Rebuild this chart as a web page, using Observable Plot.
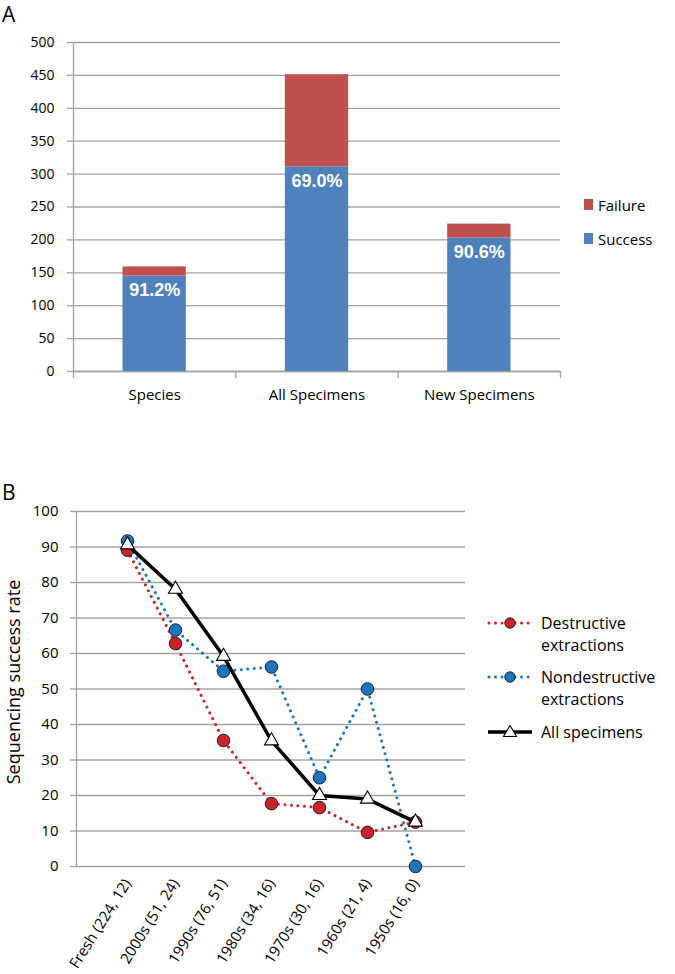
<!DOCTYPE html>
<html><head><meta charset="utf-8">
<script src="https://cdn.jsdelivr.net/npm/d3@7"></script>
<script src="https://cdn.jsdelivr.net/npm/@observablehq/plot@0.6"></script>
<style>
body{margin:0;background:#fff;font-family:"Open Sans",sans-serif;color:#000;}
#fig{position:relative;width:675px;height:974px;overflow:hidden;}
#fig svg{position:absolute;left:0;}
.abs{position:absolute;white-space:nowrap;line-height:1;}
</style></head><body><div id="fig"></div>
<script>
// ---- Panel A data ----
const categories = ["Species", "All Specimens", "New Specimens"];
const success = [145, 311, 203];
const failure = [14, 140, 21];
const successPct = ["91.2%", "69.0%", "90.6%"];
const yTicksA = [0, 50, 100, 150, 200, 250, 300, 350, 400, 450, 500];

// ---- Panel B data ----
const decades = ["Fresh (224, 12)", "2000s (51, 24)", "1990s (76, 51)", "1980s (34, 16)", "1970s (30, 16)", "1960s (21, 4)", "1950s (16, 0)"];
const destructive = [89.1, 62.8, 35.5, 17.7, 16.6, 9.6, 12.5];
const nondestructive = [91.7, 66.6, 55.0, 56.2, 25.0, 50.0, 0];
const allSpecimens = [90.6, 78.1, 59.2, 35.4, 20.0, 19.0, 12.5];
const yTicksB = [0, 10, 20, 30, 40, 50, 60, 70, 80, 90, 100];

const RED = "#CC2229", BLUE = "#1C75BC", GRID = "#a3a3a3";
const fig = document.getElementById("fig");

// ---------- Panel A ----------
const barRows = categories.flatMap((c, i) => [
  {i, cat: c, outcome: "Success", lo: 0, hi: success[i]},
  {i, cat: c, outcome: "Failure", lo: success[i], hi: success[i] + failure[i]}
]);
const plotA = Plot.plot({
  width: 675, height: 430,
  marginTop: 42, marginBottom: 59, marginLeft: 73, marginRight: 115,
  style: {fontFamily: "Open Sans", fontSize: "14px", color: "#000", background: "transparent"},
  x: {domain: [0, 3], axis: null},
  y: {domain: [0, 500], axis: null},
  color: {domain: ["Failure", "Success"], range: ["#C0504D", "#4F81BD"]},
  marks: [
    Plot.gridY(yTicksA, {stroke: GRID, strokeOpacity: 1, strokeWidth: 1.3}),
    Plot.axisY(yTicksA, {tickSize: 6, tickPadding: 13, stroke: GRID, strokeWidth: 1.3, fill: "#000", fontSize: 14, label: null}),
    Plot.ruleX([0], {y1: 0, y2: 500, stroke: GRID, strokeWidth: 1.3}),
    Plot.ruleX(d3.range(categories.length + 1), {y1: 0, y2: -11, stroke: GRID, strokeWidth: 1.3}),
    Plot.ruleY([0], {stroke: GRID, strokeWidth: 1.5}),
    Plot.rectY(barRows, {x1: d => d.i + 0.305, x2: d => d.i + 0.695, y1: "lo", y2: "hi", fill: "outcome"}),
    Plot.text(categories, {x: (d, i) => i + 0.5, y: 0, dy: 24, text: d => d, fontSize: 15, fill: "#000"}),
    Plot.text(categories, {x: (d, i) => i + 0.5, y: (d, i) => success[i], dy: 14, text: (d, i) => successPct[i],
      fill: "white", fontWeight: "bold", fontSize: 18, fontFamily: "Liberation Sans, Arial, sans-serif"})
  ]
});
plotA.style.top = "0px";
fig.appendChild(plotA);

// ---------- Panel B ----------
const rows = series => decades.map((d, i) => ({decade: d, value: series[i]}));
const dotLine = {strokeWidth: 3, strokeDasharray: "0.01 6.5", strokeLinecap: "round"};
const plotB = Plot.plot({
  width: 675, height: 544,
  marginTop: 81, marginBottom: 108, marginLeft: 76, marginRight: 210,
  style: {fontFamily: "Open Sans", fontSize: "15px", color: "#000", background: "transparent"},
  x: {type: "point", domain: decades, padding: 1, axis: null},
  y: {domain: [0, 100], axis: null},
  marks: [
    Plot.gridY(yTicksB, {stroke: GRID, strokeOpacity: 1, strokeWidth: 1.3}),
    Plot.axisY(yTicksB, {tickSize: 6, tickPadding: 12, stroke: GRID, strokeWidth: 1.3, fill: "#000", fontSize: 15, label: null}),
    Plot.frame({anchor: "left", stroke: GRID, strokeWidth: 1.3}),
    Plot.axisX({tickSize: 0, tickPadding: 14, tickRotate: -58, fontSize: 15, fill: "#000", label: null}),
    Plot.lineY(rows(destructive), {x: "decade", y: "value", stroke: RED, ...dotLine}),
    Plot.dot(rows(destructive), {x: "decade", y: "value", r: 6.3, fill: RED, stroke: "#222", strokeWidth: 1}),
    Plot.lineY(rows(nondestructive), {x: "decade", y: "value", stroke: BLUE, ...dotLine}),
    Plot.dot(rows(nondestructive), {x: "decade", y: "value", r: 6.3, fill: BLUE, stroke: "#222", strokeWidth: 1}),
    Plot.lineY(rows(allSpecimens), {x: "decade", y: "value", stroke: "#000", strokeWidth: 3.5}),
    Plot.dot(rows(allSpecimens), {x: "decade", y: "value", symbol: "triangle", r: 5.2, fill: "white", stroke: "#000", strokeWidth: 1.1})
  ]
});
plotB.style.top = "430px";
fig.appendChild(plotB);

// ---------- Text & legends ----------
function addDiv(html, css) {
  const d = document.createElement("div");
  d.className = "abs";
  d.innerHTML = html;
  Object.assign(d.style, css);
  fig.appendChild(d);
  return d;
}
addDiv("A", {left: "2px", top: "4px", fontSize: "21px"});
addDiv("B", {left: "2px", top: "482px", fontSize: "21px"});
addDiv("Sequencing success rate", {left: "13px", top: "682px", fontSize: "18px", transform: "translate(-50%,-50%) rotate(-90deg)"});

// Legend A
const legA = [["Failure", "#C0504D", 203], ["Success", "#4F81BD", 237]];
legA.forEach(([t, c, y]) => {
  addDiv(`<span style="display:inline-block;width:9px;height:11px;background:${c};margin-right:5px;vertical-align:middle"></span><span style="vertical-align:middle">${t}</span>`,
    {left: "584px", top: (y - 10) + "px", fontSize: "15px", lineHeight: "20px"});
});

// Legend B
const legB = [
  {lines: ["Destructive", "extractions"], color: RED, y: 623, kind: "dot"},
  {lines: ["Nondestructive", "extractions"], color: BLUE, y: 677, kind: "dot"},
  {lines: ["All specimens"], color: "#000", y: 732, kind: "tri"}
];
legB.forEach(l => {
  const sw = l.kind === "dot"
    ? `<svg width="48" height="14" style="position:absolute;left:0;top:0"><line x1="3" y1="7" x2="46" y2="7" stroke="${l.color}" stroke-width="3" stroke-dasharray="0.01 6.5" stroke-linecap="round"/><circle cx="24" cy="7" r="5.2" fill="${l.color}" stroke="#222" stroke-width="1"/></svg>`
    : `<svg width="48" height="16" style="position:absolute;left:0;top:-1px"><line x1="2" y1="8" x2="46" y2="8" stroke="#000" stroke-width="3.5"/><path d="M24,1.5 L30.5,12.5 L17.5,12.5 Z" fill="white" stroke="#000" stroke-width="1.1"/></svg>`;
  addDiv(sw, {left: "486px", top: (l.y - 7) + "px", width: "48px", height: "14px"});
  l.lines.forEach((t, k) => addDiv(t, {left: "541px", top: (l.y - 11 + k * 22) + "px", fontSize: "16px", lineHeight: "22px"}));
});
</script></body></html>
